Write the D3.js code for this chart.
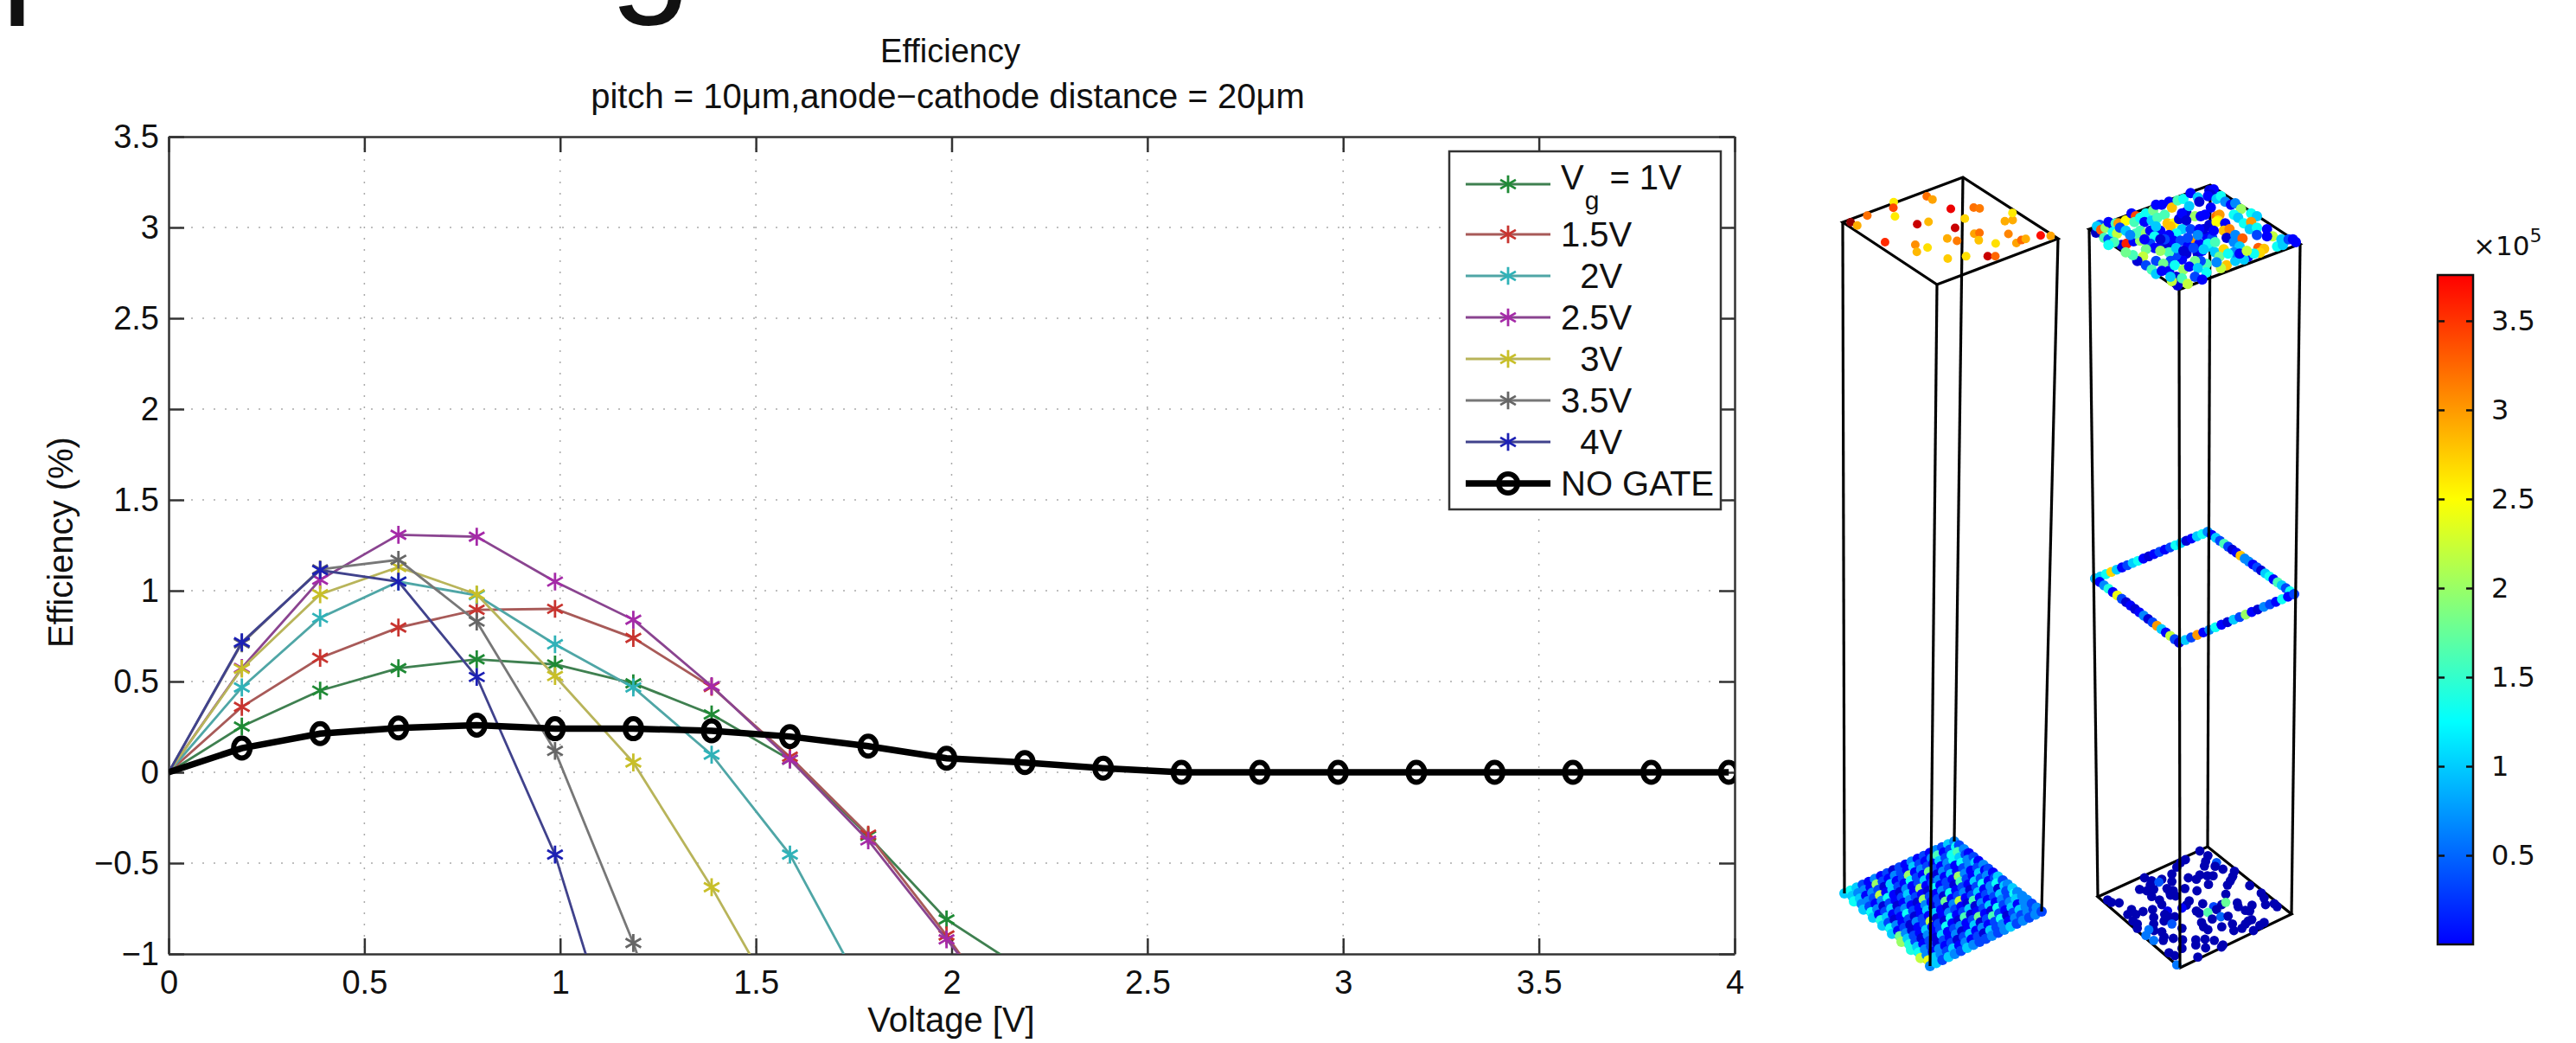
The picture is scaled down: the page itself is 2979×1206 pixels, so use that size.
<!DOCTYPE html>
<html>
<head>
<meta charset="utf-8">
<script src="https://cdn.jsdelivr.net/npm/d3@7"></script>
<style>
  body { margin: 0; background: #fff; }
  text { font-family: "Liberation Sans", Arial, sans-serif; fill: #111; }
  .cbar text { font-family: "DejaVu Sans", sans-serif; }
</style>
</head>
<body>
<svg id="fig" width="2979" height="1206"></svg>
<script>
// sweep of the anode voltage, markers sit a little left of the round numbers
const voltage = [0, .187, .387, .587, .787, .987, 1.187, 1.387, 1.587, 1.787, 1.987, 2.187, 2.387, 2.587, 2.787, 2.987, 3.187, 3.387, 3.587, 3.787, 3.985];

const vg1 = [0, .252, .45, .573, .622, .594, .49, .319, .07, -.35, -.81, -1.09];
const vg15 = [0, .36, .63, .797, .895, .9, .74, .47, .086, -.343, -.898, -1.5];
const vg2 = [0, .467, .85, 1.05, .975, .705, .467, .097, -.453, -1.25];
const vg25 = [0, .575, 1.06, 1.308, 1.297, 1.05, .84, .475, .07, -.375, -.92, -1.45];
const vg3 = [0, .57, .98, 1.13, .98, .53, .054, -.633, -1.39];
const vg35 = [0, .71, 1.117, 1.17, .83, .118, -.94, -2.2];
const vg4 = [0, .716, 1.113, 1.05, .525, -.453, -1.85];
const noGate = [0, .133, .213, .244, .26, .24, .24, .229, .197, .144, .077, .054, .023, 0, 0, 0, 0, 0, 0, 0, 0];

const legendLabels = ["1.5V", "  2V", "2.5V", "  3V", "3.5V", "  4V", "NO GATE"];
const lineColors = ["#3f8050", "#a85a58", "#4fa6a6", "#8a4490", "#b8b45a", "#777777", "#40428c"];
const markColors = ["#1f8a35", "#c8342f", "#2fb2b8", "#a52aa8", "#c8bf28", "#666666", "#1c20b4"];

const xTicks = [0, .5, 1, 1.5, 2, 2.5, 3, 3.5, 4];
const yTicks = [-1, -.5, 0, .5, 1, 1.5, 2, 2.5, 3, 3.5];
const barTicks = [.5, 1, 1.5, 2, 2.5, 3, 3.5];

// dots on the top face of the left column: u, v on the face, value in 1e5
const topLeftDots = [
  [.042,.03,4.05],[.051,.089,2.9],[.184,.026,3.2],[.433,-.011,2.6],[.385,.046,3.4],[.324,.141,2.6],[.655,.056,3.2],[.659,.111,2.95],
  [.68,.278,3.8],[.811,.353,3.2],[.835,.385,3.15],[.675,.432,2.7],[.549,.49,3.9],[.379,.306,3.9],[.457,.326,2.85],[.065,.366,3.55],
  [.204,.509,3.05],[.155,.588,2.85],[.246,.585,2.65],[.422,.569,2.9],[.455,.63,3.15],[.263,.777,2.75],[.378,.824,2.65],[.602,.625,2.95],
  [.636,.636,3.2],[.573,.709,2.8],[.636,.807,2.65],[.492,.907,3.9],[.532,.936,3.25],[.78,.758,3.1],[.864,.614,2.9],[.914,.632,2.9],
  [.971,.558,2.6],[.748,.883,2.95],[.798,.872,3.25],[.83,.877,2.9],[.936,.899,3.7],[.984,.943,2.95]
];

// bottom of the right column, read in a 720x480 window, all dark except the listed value
const bottomRightDots = [
  [372,42],[400,58],[392,78],[388,94],[430,82,.75],[425,95],[452,105],[322,72],[305,82],[292,98],[275,122],[332,135],[360,140],[372,125],
  [398,128],[418,128],[402,158],[492,112],[486,130],[478,145],[468,160],[545,162],[462,192],[180,135],[205,145],[200,160],[240,140],
  [230,150,.75],[275,148],[258,172],[163,175],[188,180],[212,175],[320,172],[362,180],[268,185],[280,180],[270,195],[288,198],[205,200],
  [232,212],[240,228],[585,188],[595,205],[600,228],[630,225],[640,235],[335,215],[325,230],[310,240,.5],[382,225],[420,235,.7],[430,245],
  [448,228],[462,220,1.75],[502,222],[505,235],[52,212],[65,220],[92,222],[135,245],[122,262],[150,262],[175,252],[208,245],[260,250,.4],
  [250,262],[360,250],[370,258],[400,255,1.65],[445,270,.8],[415,278],[470,268],[530,248],[553,230],[545,250],[552,280],[540,285],[530,295],
  [518,310],[595,290],[580,300],[558,318],[212,272],[212,295],[248,285],[265,272],[285,270],[275,295,.75],[140,285],[155,295],[155,310],
  [378,290],[385,305],[400,315],[448,305],[485,295],[490,318],[310,310],[213,318],[195,315,.85],[185,335,.85],[212,352,.85],[240,322],
  [248,340],[245,352],[280,345],[312,350],[358,350],[358,368],[390,348],[422,352],[310,380],[392,378],[452,368],[447,375],[265,395],[285,405],
  [365,410],[292,437,.85]
];

// top of the right column, read in a 780x420 window, value in 1e4
const topRightDots = [
  [42,192,2],[55,165,7],[45,170,11],[60,182,33],[75,175,20],[85,155,5],[100,165,5],[110,160,16],[120,160,30],[145,150,25],[165,125,5],[180,135,34],
  [175,155,16],[70,210,16],[85,215,7],[100,190,13],[115,195,22],[125,175,7],[145,185,11],[130,235,3],[148,230,36],[172,222,5],[105,225,16],[85,235,13],
  [195,140,13],[215,125,13],[240,115,18],[250,95,5],[270,95,5],[295,85,5],[210,155,5],[235,150,11],[255,140,16],[280,130,16],[305,105,28],[325,80,16],
  [345,75,13],[370,55,5],[395,70,11],[400,85,3],[435,45,3],[450,42,5],[440,60,3],[430,65,5],[460,75,11],[475,65,13],[490,85,9],[510,95,5],[525,90,9],
  [545,110,20],[580,125,13],[600,135,11],[195,185,16],[215,195,20],[230,185,5],[265,185,5],[245,205,13],[195,220,20],[230,230,7],[265,240,5],[245,245,5],
  [215,250,18],[290,160,28],[312,160,25],[300,170,28],[330,145,3],[355,120,3],[340,125,5],[365,100,11],[385,135,20],[405,135,5],[355,150,3],[340,180,11],
  [370,180,7],[320,195,13],[295,200,5],[290,230,3],[310,220,5],[335,220,7],[385,218,30],[400,230,5],[425,205,5],[445,210,7],[435,165,3],[420,130,5],
  [440,105,5],[460,135,32],[470,130,30],[465,150,26],[460,155,25],[490,160,5],[520,130,13],[535,140,11],[555,160,13],[580,155,30],[575,180,11],[600,175,13],
  [635,180,5],[655,205,22],[635,205,5],[485,185,28],[505,180,31],[495,210,3],[525,200,9],[520,225,9],[550,212,33],[540,240,11],[600,200,7],[605,245,33],
  [625,248,28],[610,262,27],[570,275,5],[590,265,13],[670,240,13],[690,235,11],[685,215,11],[710,215,7],[735,225,5],[725,215,5],[360,240,5],[395,265,3],
  [410,255,5],[435,240,11],[455,260,11],[485,250,27],[470,275,18],[495,305,28],[475,315,22],[525,290,11],[555,285,11],[460,295,9],[425,300,16],[425,330,13],
  [405,290,7],[385,290,18],[355,265,3],[340,285,5],[320,270,7],[295,260,16],[300,290,7],[265,255,20],[250,290,7],[275,300,18],[205,275,22],[185,290,3],
  [170,270,16],[215,305,7],[235,320,16],[250,335,11],[270,325,5],[295,325,5],[315,305,13],[345,320,20],[365,310,5],[395,315,11],[320,345,3],[325,375,3],
  [340,350,16],[305,360,22],[360,370,22],[385,345,7],[410,355,5],[300,345,11],[145,260,18],[280,215,7],[265,215,3],[415,180,3],[400,180,5],[430,230,13],
  [455,225,16],[360,210,7],[520,260,9],[500,265,13],[540,265,5],[565,255,22],[250,170,11],[320,245,11],[345,255,3],[380,245,7],[415,250,11],[450,185,5],
  [395,200,9],[180,195,16],[160,200,9],[210,215,5]
];

// bottom of the left column is packed almost like a lattice, value in 1e4 per row
const bottomLeftGrid = [
  [11,13,11,7,5,9,5,7,3,7,5,9,5,7,5,9,7,11,9],
  [11,9,9,5,20,7,5,9,7,5,11,7,5,9,16,5,7,13,7],
  [13,11,5,9,7,3,11,5,7,20,5,9,7,5,11,7,13,16,9],
  [9,9,7,22,5,11,7,5,13,7,5,18,7,5,9,13,11,7,5],
  [11,7,5,9,13,5,3,9,5,7,11,5,3,9,7,5,13,9,7],
  [13,9,3,7,5,7,11,5,20,5,7,9,5,11,5,7,9,11,5],
  [11,5,7,11,3,5,9,7,5,3,13,5,7,5,20,9,5,7,9],
  [14,11,5,7,9,5,3,20,7,5,9,7,3,16,7,5,11,5,7],
  [11,7,3,5,13,7,5,9,5,7,3,13,5,7,5,11,7,9,5],
  [13,9,5,7,3,5,11,3,7,18,5,7,9,3,7,13,5,7,11],
  [11,5,7,3,9,7,5,11,5,3,9,22,5,7,11,5,9,13,7],
  [18,9,3,5,7,22,3,5,9,7,5,3,16,5,7,9,3,11,9],
  [20,11,7,5,11,5,7,3,13,5,7,11,3,9,5,7,11,7,11],
  [14,7,3,9,5,7,13,5,3,16,3,5,7,11,5,9,7,13,9],
  [14,11,5,7,3,11,5,7,9,5,7,18,5,3,13,7,9,11,9],
  [13,9,7,3,7,5,9,3,5,11,3,7,16,7,5,11,5,9,9],
  [22,9,5,9,5,7,3,7,11,5,9,5,7,13,3,7,11,9,7],
  [24,11,9,7,11,5,9,5,7,3,11,7,9,5,9,7,9,7,9],
  [9,11,7,11,9,7,11,9,7,7,9,7,9,11,7,9,7,9,7]
];

// the ring half way up the right column, one list per side, value in 1e4
const ringLeftBack = [5,11,13,27,11,5,7,11,13,5,3,5,7,5,7,13,11,3,5,11,13,11];
const ringBackRight = [9,5,11,7,16,7,3,5,28,9,9,5,7,3,11,13,5,16,11,7,13,5];
const ringLeftFront = [11,5,9,14,5,24,7,3,5,3,5,9,3,7,30,11,5,22,7,3];
const ringFrontRight = [3,11,7,30,5,9,13,5,3,11,7,20,5,3,9,7,5,13,5,7];

var svg = d3.select("#fig");

// big slide heading, only the descenders are left on the crop
svg.append("text").attr("x", 1).attr("y", -5).style("font-size", "170px").attr("fill", "#000").text("p");
svg.append("text").attr("x", 705).attr("y", -5).style("font-size", "170px").attr("fill", "#000").text("g");

/* ---------- line chart ---------- */
var margin = {top: 158, left: 195},
    width = 1811,
    height = 945;

var x = d3.scaleLinear().domain([0, 4]).range([0, width]),
    y = d3.scaleLinear().domain([-1, 3.5]).range([height, 0]);

svg.append("defs").append("clipPath").attr("id", "plotclip")
  .append("rect").attr("width", width).attr("height", height);

var focus = svg.append("g").attr("transform", "translate(" + margin.left + "," + margin.top + ")");

focus.selectAll(".gx").data(xTicks.slice(1, -1)).join("line")
  .attr("x1", d => x(d)).attr("x2", d => x(d)).attr("y1", 0).attr("y2", height)
  .attr("stroke", "#aaa").attr("stroke-width", 1.5).attr("stroke-dasharray", "2,11");
focus.selectAll(".gy").data(yTicks.slice(1, -1)).join("line")
  .attr("x1", 0).attr("x2", width).attr("y1", d => y(d)).attr("y2", d => y(d))
  .attr("stroke", "#aaa").attr("stroke-width", 1.5).attr("stroke-dasharray", "2,11");

var fmt = d => String(d).replace("-", "\u2212");
var axes = [
  focus.append("g").call(d3.axisLeft(y).tickValues(yTicks).tickFormat(fmt).tickSizeInner(-18).tickSizeOuter(0).tickPadding(11)),
  focus.append("g").attr("transform", "translate(0," + height + ")")
    .call(d3.axisBottom(x).tickValues(xTicks).tickFormat(fmt).tickSizeInner(-18).tickSizeOuter(0).tickPadding(19)),
  focus.append("g").call(d3.axisTop(x).tickValues(xTicks).tickFormat("").tickSizeInner(-18).tickSizeOuter(0)),
  focus.append("g").attr("transform", "translate(" + width + ",0)")
    .call(d3.axisRight(y).tickValues(yTicks).tickFormat("").tickSizeInner(-18).tickSizeOuter(0))
];
axes.forEach(a => {
  a.selectAll("path,line").attr("stroke", "#333").attr("stroke-width", 2.5);
  a.selectAll("text").style("font-size", "38px").attr("fill", "#111");
});

var line = d3.line().x((d, i) => x(voltage[i])).y(d => y(d));
var star = d3.symbol().type(d3.symbolAsterisk).size(300);
var plot = focus.append("g").attr("clip-path", "url(#plotclip)");

[vg1, vg15, vg2, vg25, vg3, vg35, vg4].forEach((s, k) => {
  plot.append("path").attr("d", line(s)).attr("fill", "none")
    .attr("stroke", lineColors[k]).attr("stroke-width", 2.8);
  plot.selectAll(null).data(s.slice(1)).join("path")
    .attr("d", star)
    .attr("transform", (d, i) => "translate(" + x(voltage[i + 1]) + "," + y(d) + ")")
    .attr("fill", "none").attr("stroke", markColors[k]).attr("stroke-width", 2.8);
});

plot.append("path").attr("d", line(noGate)).attr("fill", "none").attr("stroke", "#000").attr("stroke-width", 7.5);
plot.selectAll(null).data(noGate.slice(1)).join("ellipse")
  .attr("cx", (d, i) => x(voltage[i + 1])).attr("cy", d => y(d)).attr("rx", 9.5).attr("ry", 11.5)
  .attr("fill", "none").attr("stroke", "#000").attr("stroke-width", 6);

svg.append("text").attr("x", 1099).attr("y", 72).attr("text-anchor", "middle").style("font-size", "38px").text("Efficiency");
svg.append("text").attr("x", 1096).attr("y", 125).attr("text-anchor", "middle").style("font-size", "40px")
  .text("pitch = 10\u03bcm,anode\u2212cathode distance = 20\u03bcm");
svg.append("text").attr("x", 1100).attr("y", 1193).attr("text-anchor", "middle").style("font-size", "40px").text("Voltage [V]");
svg.append("text").attr("transform", "translate(84,627) rotate(-90)").attr("text-anchor", "middle").style("font-size", "40px").text("Efficiency (%)");

/* ---------- legend ---------- */
var legend = svg.append("g");
legend.append("rect").attr("x", 1676).attr("y", 175).attr("width", 314).attr("height", 414)
  .attr("fill", "#fff").attr("stroke", "#333").attr("stroke-width", 2.5);

var rowY = d3.scalePoint().domain(d3.range(7)).range([271, 559]);

function legendMark(yy, k) {
  legend.append("line").attr("x1", 1695).attr("x2", 1793).attr("y1", yy).attr("y2", yy)
    .attr("stroke", lineColors[k]).attr("stroke-width", 2.8);
  legend.append("path").attr("d", star).attr("transform", "translate(1744," + yy + ")")
    .attr("fill", "none").attr("stroke", markColors[k]).attr("stroke-width", 2.8);
}

legendMark(213, 0);
var first = legend.append("text").attr("x", 1805).attr("y", 219).style("font-size", "40px");
first.append("tspan").text("V");
first.append("tspan").attr("dy", 23).attr("dx", 1).style("font-size", "30px").text("g");
first.append("tspan").attr("dy", -23).attr("dx", 12).text("= 1V");

legendLabels.forEach((t, i) => {
  var yy = rowY(i);
  if (i < 6) legendMark(yy, i + 1);
  else {
    legend.append("line").attr("x1", 1695).attr("x2", 1793).attr("y1", yy).attr("y2", yy).attr("stroke", "#000").attr("stroke-width", 7.5);
    legend.append("ellipse").attr("cx", 1744).attr("cy", yy).attr("rx", 11).attr("ry", 11).attr("fill", "none").attr("stroke", "#000").attr("stroke-width", 6);
  }
  legend.append("text").attr("x", 1805).attr("y", yy + 14).style("font-size", "40px").style("white-space", "pre").text(t);
});

/* ---------- the two columns ---------- */
var blur = svg.select("defs").append("filter").attr("id", "soft");
blur.append("feGaussianBlur").attr("stdDeviation", .7);

var dotColor = d3.scaleLinear().domain([0, .5, 1.25, 2.5, 3.75, 4.1])
  .range(["#00009a", "#0000ff", "#00ffff", "#ffff00", "#ff0000", "#800000"]);

var leftBox = {top: [[2131, 257], [2270, 205], [2380, 276], [2240, 329]], bottom: [[2133, 1033], [2260, 973], [2361, 1054], [2232, 1117]]};
var rightBox = {top: [[2416, 265], [2556, 214], [2660, 282], [2520, 335]], bottom: [[2426, 1037], [2553, 979], [2650, 1057], [2521, 1119]]};
var ringFace = [[2423, 669], [2553, 615], [2653, 687], [2520, 743]];

function lerp(p, q) {
  var sx = d3.scaleLinear().domain([0, 1]).range([p[0], q[0]]),
      sy = d3.scaleLinear().domain([0, 1]).range([p[1], q[1]]);
  return t => [sx(t), sy(t)];
}

// u runs left->back, v runs left->front
function face(c) {
  var a = lerp(c[0], c[1]), b = lerp(c[3], c[2]);
  return (u, v) => lerp(a(u), b(u))(v);
}

function outline(c, g) {
  g.append("path").attr("d", d3.line().curve(d3.curveLinearClosed)(c))
    .attr("fill", "none").attr("stroke", "#000").attr("stroke-width", 3.2);
}

function drawDots(g, pts) {
  g.selectAll(null).data(pts).join("circle")
    .attr("cx", d => d[0]).attr("cy", d => d[1]).attr("r", d => d[3] || 5.4)
    .attr("fill", d => dotColor(d[2]));
}

var panel = svg.append("g");
var edges = panel.append("g").attr("filter", "url(#soft)");
[leftBox.top, leftBox.bottom, rightBox.top, rightBox.bottom, ringFace].forEach(c => outline(c, edges));

var lower = panel.append("g").attr("filter", "url(#soft)");

// left column floor, odd rows are half a step over so it does not read as a grid
var leftFloor = face(leftBox.bottom),
    gridPos = d3.scalePoint().domain(d3.range(19)).range([0, 1]),
    step = gridPos.step();
var gridPts = [];
bottomLeftGrid.forEach((row, i) => row.forEach((val, j) => {
  var p = leftFloor(Math.min(1, gridPos(j) + (i % 2 ? step / 2 : 0)), gridPos(i));
  gridPts.push([p[0], p[1], val / 10, 6]);
}));
drawDots(lower, gridPts);

// right column floor
var brX = d3.scaleLinear().domain([0, 720]).range([2420, 2660]),
    brY = d3.scaleLinear().domain([0, 480]).range([970, 1130]);
drawDots(lower, bottomRightDots.map(d => [brX(d[0]), brY(d[1]), d.length > 2 ? d[2] : .12]));

// ring
function sidePts(list, from, to) {
  var pos = d3.scalePoint().domain(d3.range(list.length)).range([0, 1]), side = lerp(from, to);
  return list.map((val, i) => { var p = side(pos(i)); return [p[0], p[1], val / 10, 5.8]; });
}
drawDots(lower, sidePts(ringLeftBack, ringFace[0], ringFace[1]));
drawDots(lower, sidePts(ringBackRight, ringFace[1], ringFace[2]));
drawDots(lower, sidePts(ringLeftFront, ringFace[0], ringFace[3]));
drawDots(lower, sidePts(ringFrontRight, ringFace[3], ringFace[2]));

// verticals go over the floors and the ring
var verticals = panel.append("g").attr("filter", "url(#soft)");
[leftBox, rightBox].forEach(b => b.top.forEach((p, i) => {
  verticals.append("line").attr("x1", p[0]).attr("y1", p[1]).attr("x2", b.bottom[i][0]).attr("y2", b.bottom[i][1])
    .attr("stroke", "#000").attr("stroke-width", 3.2);
}));

// tops sit over the lines
var upper = panel.append("g").attr("filter", "url(#soft)");
var leftTop = face(leftBox.top);
drawDots(upper, topLeftDots.map(d => { var p = leftTop(d[0], d[1]); return [p[0], p[1], d[2], 5]; }));
var trX = d3.scaleLinear().domain([0, 780]).range([2410, 2670]),
    trY = d3.scaleLinear().domain([0, 420]).range([205, 345]);
drawDots(upper, topRightDots.map(d => [trX(d[0]), trY(d[1]), d[2] / 10, 6]));

/* ---------- colour bar ---------- */
var barY = d3.scaleLinear().domain([0, 3.757]).range([1092, 318]);
var barColor = d3.scaleLinear().domain([0, 1.25, 2.5, 3.757]).range(["#0000ff", "#00ffff", "#ffff00", "#ff0000"]);

var grad = svg.select("defs").append("linearGradient").attr("id", "jet")
  .attr("x1", 0).attr("x2", 0).attr("y1", 1).attr("y2", 0);
grad.selectAll("stop").data(barColor.domain()).join("stop")
  .attr("offset", d => d / 3.757).attr("stop-color", d => barColor(d));

var cbar = svg.append("g").attr("class", "cbar");
cbar.append("rect").attr("x", 2819).attr("y", 318).attr("width", 41).attr("height", 774)
  .attr("fill", "url(#jet)").attr("stroke", "#111").attr("stroke-width", 2.5);

var cr = cbar.append("g").attr("transform", "translate(2860,0)")
  .call(d3.axisRight(barY).tickValues(barTicks).tickFormat(d => d).tickSizeInner(-8).tickSizeOuter(0).tickPadding(21));
var cl = cbar.append("g").attr("transform", "translate(2819,0)")
  .call(d3.axisLeft(barY).tickValues(barTicks).tickFormat("").tickSizeInner(-8).tickSizeOuter(0));
cr.select(".domain").remove();
cl.select(".domain").remove();
cbar.selectAll("line").attr("stroke", "#111").attr("stroke-width", 2.5);
cr.selectAll("text").style("font-size", "32px").attr("fill", "#111");

var exp = cbar.append("text").attr("x", 2860).attr("y", 295).style("font-size", "31px");
exp.append("tspan").text("\u00d710");
exp.append("tspan").attr("dy", -15).style("font-size", "22px").text("5");
</script>
</body>
</html>
